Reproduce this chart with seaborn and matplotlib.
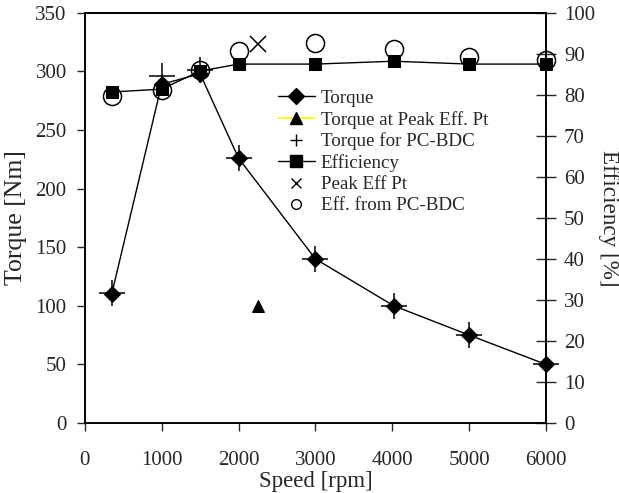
import matplotlib
matplotlib.use("Agg")
import matplotlib.pyplot as plt
from matplotlib.lines import Line2D
import seaborn as sns
import pandas as pd

# ---- data ----
speed = [350, 1000, 1500, 2000, 3000, 4020, 5000, 6000]
torque = [110, 289, 298, 226, 140, 100, 75, 50]
torque_pc_bdc = [111, 296, 301, 226, 140, 100, 75, 50]
efficiency = [80.7, 81.4, 85.8, 87.5, 87.5, 88.2, 87.5, 87.5]
eff_pc_bdc = [79.6, 81.3, 86.1, 90.6, 92.7, 91.3, 89.2, 88.4]
peak_speed = [2250]
peak_torque = [100]
peak_eff = [92.5]

labels = ["Torque", "Torque at Peak Eff. Pt", "Torque for PC-BDC",
          "Efficiency", "Peak Eff Pt", "Eff. from PC-BDC"]

sns.set_style("ticks")
plt.rcParams["font.family"] = ["Liberation Serif", "DejaVu Serif"]

fig = plt.figure(figsize=(6.19, 4.93), dpi=100)
ax = fig.add_axes([0.137, 0.142, 0.745, 0.832])
ax2 = ax.twinx()

df_t = pd.DataFrame({"speed": speed, "torque": torque, "tpc": torque_pc_bdc,
                     "eff": efficiency, "epc": eff_pc_bdc})
df_p = pd.DataFrame({"speed": peak_speed, "torque": peak_torque, "eff": peak_eff})

common = dict(estimator=None, sort=False, legend=False, clip_on=False)

# torque axis
sns.lineplot(data=df_t, x="speed", y="torque", ax=ax, color="black", lw=1,
             marker="D", markersize=8, markeredgecolor="black", **common)
sns.lineplot(data=df_p, x="speed", y="torque", ax=ax, color="#ffff00", lw=1.2,
             marker="^", markersize=9, markerfacecolor="black",
             markeredgecolor="black", **common)
sns.lineplot(data=df_t, x="speed", y="tpc", ax=ax, color="black",
             linestyle="none", marker="+", markersize=19, markeredgewidth=1.1,
             markeredgecolor="black", **common)

# efficiency axis
sns.lineplot(data=df_t, x="speed", y="eff", ax=ax2, color="black", lw=1,
             marker="s", markersize=8, markeredgecolor="black", **common)
sns.lineplot(data=df_p, x="speed", y="eff", ax=ax2, color="black",
             linestyle="none", marker="x", markersize=11, markeredgewidth=1.1,
             markeredgecolor="black", **common)
sns.lineplot(data=df_t, x="speed", y="epc", ax=ax2, color="black",
             linestyle="none", marker="o", markersize=13, markerfacecolor="none",
             markeredgecolor="black", markeredgewidth=1.1, **common)

ax.set_xlim(0, 6000)
ax.set_ylim(0, 350)
ax2.set_ylim(0, 100)
ax.set_xticks(range(0, 6001, 1000))
ax.set_yticks(range(0, 351, 50))
ax2.set_yticks(range(0, 101, 10))

ax.set_xlabel("Speed [rpm]", fontsize=16.5, labelpad=1)
ax.set_ylabel("Torque [Nm]", fontsize=18.5, labelpad=6)
ax2.set_ylabel("Efficiency [%]", fontsize=16.7, rotation=270, labelpad=17)

ax.tick_params(axis="x", direction="out", length=6, width=1, pad=14, labelsize=15)
ax.tick_params(axis="y", direction="out", length=6, width=1, pad=7, labelsize=15)
ax2.tick_params(axis="y", direction="inout", length=14, width=1, pad=6, labelsize=15)

for a in (ax, ax2):
    for s in a.spines.values():
        s.set_visible(True)
        s.set_linewidth(1.2)
        s.set_color("black")

handles = [
    Line2D([], [], color="black", lw=1, marker="D", markersize=8),
    Line2D([], [], color="#ffff00", lw=1.2, marker="^", markersize=9,
           markerfacecolor="black", markeredgecolor="black"),
    Line2D([], [], color="black", ls="none", marker="+", markersize=9,
           markeredgewidth=1),
    Line2D([], [], color="black", lw=1, marker="s", markersize=8),
    Line2D([], [], color="black", ls="none", marker="x", markersize=7,
           markeredgewidth=1),
    Line2D([], [], color="black", ls="none", marker="o", markersize=7,
           markerfacecolor="none", markeredgewidth=1),
]
leg = ax2.legend(handles, labels, loc="upper left",
                 bbox_to_anchor=(0.449, 0.818), bbox_transform=fig.transFigure,
                 frameon=False, fontsize=13.7, handlelength=1.95,
                 handletextpad=0.3, labelspacing=0.2, borderpad=0,
                 borderaxespad=0)

fig.savefig("out.png", dpi=100)
